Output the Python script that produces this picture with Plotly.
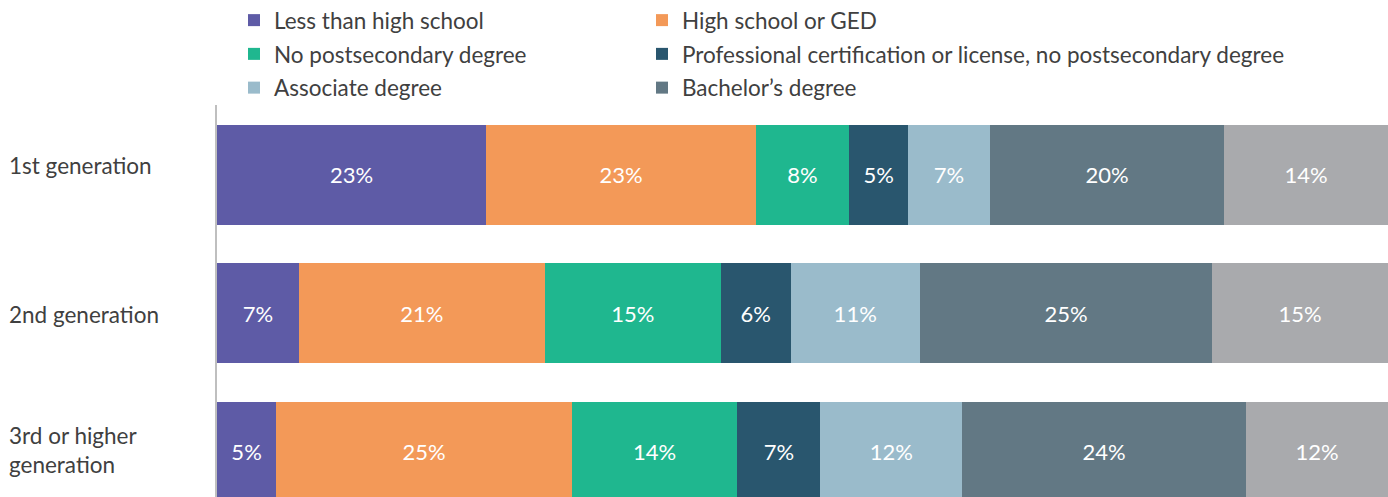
import plotly.graph_objects as go

generations = ["1st generation", "2nd generation", "3rd or higher<br>generation"]
series_names = [
    "Less than high school",
    "High school or GED",
    "No postsecondary degree",
    "Professional certification or license, no postsecondary degree",
    "Associate degree",
    "Bachelor’s degree",
    "Graduate degree",
]
less_than_hs = [23, 7, 5]
hs_or_ged = [23, 21, 25]
no_postsec = [8, 15, 14]
prof_cert = [5, 6, 7]
associate = [7, 11, 12]
bachelors = [20, 25, 24]
graduate = [14, 15, 12]

series_values = [less_than_hs, hs_or_ged, no_postsec, prof_cert, associate, bachelors, graduate]
colors = ["#5E5BA6", "#F39958", "#1FB78F", "#29566E", "#9ABBCB", "#627884", "#A9AAAD"]
legend_ids = ["legend", "legend2", "legend", "legend2", "legend", "legend2", None]

W, H = 1388, 497
ML, MT = 217, 105
PW, PH = W - ML, H - MT

fig = go.Figure()
ypos = list(range(len(generations)))
for name, vals, col, lg in zip(series_names, series_values, colors, legend_ids):
    fig.add_trace(go.Bar(
        y=ypos, x=vals, orientation="h", name=name,
        marker=dict(color=col, line=dict(width=0)),
        width=0.722,
        text=[f"{v}%" for v in vals], textposition="inside",
        insidetextanchor="middle",
        textfont=dict(color="white", size=22, family="Lato"),
        showlegend=lg is not None,
        legend=lg if lg else "legend",
        legendgroup=name,
        hoverinfo="skip",
    ))

for i, g in enumerate(generations):
    fig.add_annotation(
        x=-(ML - 7) / PW, xref="paper", y=i, yref="y",
        text=g, showarrow=False, xanchor="left", align="left",
        yshift=9 if i == 0 else (-1 if i == 1 else 2),
        font=dict(size=22.5, color="#404040", family="Lato"),
    )

fig.update_layout(
    width=W, height=H,
    margin=dict(l=ML, r=0, t=MT, b=0, autoexpand=False),
    barmode="stack", barnorm="percent",
    plot_bgcolor="white", paper_bgcolor="white",
    font=dict(family="Lato", size=20, color="#404040"),
    uniformtext=dict(minsize=10, mode="show"),
    xaxis=dict(range=[0, 100], showgrid=False, zeroline=False, showticklabels=False,
               showline=False, fixedrange=True),
    yaxis=dict(range=[2.325, -0.505], showgrid=False, zeroline=False, showticklabels=False,
               showline=True, linecolor="#BFBFBF", linewidth=1.5, ticks=""),
    legend=dict(x=(234 - ML) / PW, xanchor="left", y=(H + 1) / PH, yanchor="top",
                orientation="v", tracegroupgap=1.5, itemwidth=30,
                font=dict(size=22.5, color="#404040", family="Lato"), bgcolor="rgba(0,0,0,0)"),
    legend2=dict(x=(642 - ML) / PW, xanchor="left", y=(H + 1) / PH, yanchor="top",
                 orientation="v", tracegroupgap=1.5, itemwidth=30,
                 font=dict(size=22.5, color="#404040", family="Lato"), bgcolor="rgba(0,0,0,0)"),
)

fig.write_html("out.html", config={"displayModeBar": False},
               post_script="document.body.style.margin='0px';")
